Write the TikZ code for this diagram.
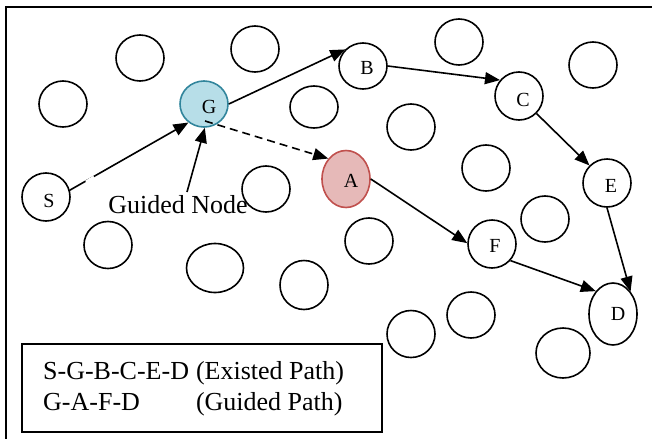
\documentclass[tikz,border=0pt]{standalone}
\usepackage{fontspec}
\setmainfont{Liberation Serif}
\usetikzlibrary{arrows.meta,shapes.geometric}
\definecolor{gfill}{HTML}{B7DEE8}
\definecolor{gdraw}{HTML}{31859C}
\definecolor{afill}{HTML}{E6B9B8}
\definecolor{adraw}{HTML}{C0504D}
\begin{document}
\begin{tikzpicture}[x=1pt,y=-1pt,
  nd/.style={ellipse,draw,line width=1.6pt,minimum width=48pt,minimum height=46pt,inner sep=0pt},
  lab/.style={font=\fontsize{20}{20}\selectfont,inner sep=0pt},
  arr/.style={line width=1.6pt,-{Triangle[length=15pt,width=12pt]}},
]
\useasboundingbox (0,0) rectangle (652,439);
% frame
\draw[line width=2pt] (652,7) -- (6,7) -- (6,439);
% unlabeled nodes
\node[nd] (n1) at (140,58) {};
\node[nd] (n2) at (255,49) {};
\node[nd] (n3) at (63,104) {};
\node[nd,minimum height=42pt] (n4) at (314,107) {};
\node[nd] (n5) at (459,42) {};
\node[nd] (n6) at (593,65) {};
\node[nd] (n7) at (411,127) {};
\node[nd] (n8) at (486,168) {};
\node[nd] (n9) at (266,189) {};
\node[nd] (n10) at (545,219) {};
\node[nd] (n11) at (369,241) {};
\node[nd,minimum height=47pt] (n12) at (108,245) {};
\node[nd,minimum width=57pt,minimum height=49pt] (n13) at (215,268) {};
\node[nd,minimum height=49pt] (n14) at (304,285) {};
\node[nd,minimum height=47pt] (n15) at (411,334) {};
\node[nd] (n16) at (471,315) {};
\node[nd,minimum width=54pt,minimum height=50pt] (n17) at (563,353) {};
% labeled nodes
\node[nd,minimum height=48pt,label={[lab,xshift=3pt,yshift=-4pt]center:S}] (S) at (46,197) {};
\node[nd,draw=gdraw,fill=gfill,label={[lab,xshift=5pt,yshift=-3pt]center:G}] (G) at (204,104) {};
\node[nd,draw=adraw,fill=afill,minimum height=57pt,label={[lab,xshift=5pt,yshift=-2pt]center:A}] (A) at (346,179) {};
\node[nd,label={[lab,xshift=4pt,yshift=-2pt]center:B}] (B) at (363,66) {};
\node[nd,minimum height=48pt,label={[lab,xshift=4pt,yshift=-4pt]center:C}] (C) at (519,96) {};
\node[nd,minimum height=48pt,label={[lab,xshift=4pt,yshift=-3pt]center:E}] (E) at (607,183) {};
\node[nd,minimum height=48pt,label={[lab,xshift=3pt,yshift=-2pt]center:F}] (F) at (492,244) {};
\node[nd,minimum height=62pt,label={[lab,xshift=5pt,yshift=0pt]center:D}] (D) at (613,314) {};
% guided node text
\node[font=\fontsize{26}{26}\selectfont,inner sep=0pt] (gn) at (178,205) {Guided Node};
\coordinate (gnt) at (187,192);
\coordinate (gd) at (205,121);
% arrows
\draw[arr] (S.16) -- (G.230);
\draw[line width=3pt,white] (86,182) -- (94,177);
\draw[arr] (gnt) -- (G.272);
\draw[arr] (G.east) -- (B.137);
\draw[arr] (B.east) -- (C.140);
\draw[arr] (C.315) -- (E.135);
\draw[arr] (E.south) -- (D.52);
\draw[arr,dash pattern=on 8pt off 5pt] (gd) -- (A.131);
\draw[arr] (A.east) -- (F.178);
\draw[arr] (F.318) -- (D.127);
% legend
\node[draw,line width=1.4pt,minimum width=360pt,minimum height=88pt,inner sep=0pt] (leg) at (202,388) {};
\node[anchor=west,inner sep=0pt,font=\fontsize{26}{31}\selectfont] (legtxt) at (43,389)
  {\begin{tabular}{@{}l@{\hspace{7pt}}l@{}}S-G-B-C-E-D&(Existed Path)\\G-A-F-D&(Guided Path)\end{tabular}};
\end{tikzpicture}
\end{document}
